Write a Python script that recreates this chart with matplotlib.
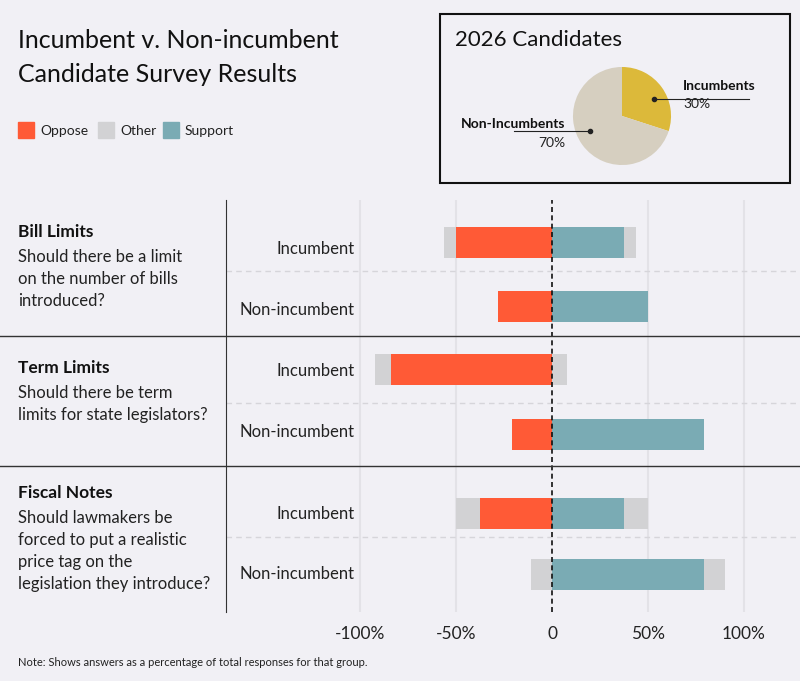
import matplotlib
matplotlib.use("Agg")
import matplotlib.pyplot as plt
from matplotlib.patches import Rectangle
import numpy as np

plt.rcParams['font.family'] = ['Lato', 'DejaVu Sans']

groups = ["Incumbent", "Non-incumbent"] * 3
oppose = [50, 28, 84, 21, 37.5, 0]
other = [12.5, 0, 16, 0, 25, 22]
support = [37.5, 50, 0, 79, 37.5, 79]
pie_labels = ["Incumbents", "Non-Incumbents"]
pie_vals = [30, 70]
ticks = [-100, -50, 0, 50, 100]
tick_labels = ["-100%", "-50%", "0", "50%", "100%"]

BG = "#f1f0f5"
C_OPP, C_OTH, C_SUP = "#ff5a36", "#d2d2d4", "#7aabb4"
W, H = 800, 681
fig = plt.figure(figsize=(8, 6.81), dpi=100, facecolor=BG)

def fx(px): return px / W
def fy(py): return 1 - py / H

ax = fig.add_axes([fx(226), fy(612), fx(800 - 226), (612 - 200) / H])
ax.set_facecolor(BG)
ax.set_xlim((226 - 552) / 1.92, (800 - 552) / 1.92)
ax.set_ylim(612, 200)
rows = [242, 306, 369, 434, 513, 574]
label_rows = [249, 310, 371, 432, 514, 574]
bh = 31
for g in ticks:
    if g != 0:
        ax.axvline(g, color="#e3e2e7", lw=1.5, zorder=0)
for y, o, m, s in zip(rows, oppose, other, support):
    ax.barh(y, -o, height=bh, color=C_OPP, zorder=2)
    ax.barh(y, -m / 2, left=-o, height=bh, color=C_OTH, zorder=2)
    ax.barh(y, s, height=bh, color=C_SUP, zorder=2)
    ax.barh(y, m / 2, left=s, height=bh, color=C_OTH, zorder=2)
for y, g in zip(label_rows, groups):
    ax.text(-103, y, g, ha="right", va="center", fontsize=12, color="#222")
ax.axvline(0, color="#111", lw=1.2, ls=(0, (3, 2)), zorder=3)
for yd in [271, 403, 537]:
    ax.axhline(yd, color="#d6d5da", lw=1, ls=(0, (4, 3)), zorder=1)
for s in ax.spines.values():
    s.set_visible(False)
ax.spines['left'].set_visible(True)
ax.spines['left'].set_color("#333")
ax.set_yticks([])
ax.set_xticks(ticks)
ax.set_xticklabels(tick_labels, fontsize=12.5, color="#222")
ax.tick_params(axis='x', length=0, pad=10)

for ys in [336, 466]:
    fig.add_artist(plt.Line2D([0, 1], [fy(ys), fy(ys)], color="#333", lw=1))

fig.text(fx(18), fy(40), "Incumbent v. Non-incumbent", fontsize=18, va="center", color="#111")
fig.text(fx(18), fy(74), "Candidate Survey Results", fontsize=18, va="center", color="#111")
for lab, c, x in [("Oppose", C_OPP, 18), ("Other", C_OTH, 98), ("Support", C_SUP, 163)]:
    fig.add_artist(Rectangle((fx(x), fy(138)), 16 / W, 16 / H, color=c, transform=fig.transFigure))
    fig.text(fx(x + 22), fy(131), lab, fontsize=10, va="center", color="#222")

sections = [
    (232, "Bill Limits", ["Should there be a limit", "on the number of bills", "introduced?"]),
    (368, "Term Limits", ["Should there be term", "limits for state legislators?"]),
    (493, "Fiscal Notes", ["Should lawmakers be", "forced to put a realistic", "price tag on the", "legislation they introduce?"]),
]
for y0, head, lines in sections:
    fig.text(fx(18), fy(y0), head, fontsize=12.5, fontweight="bold", va="center", color="#111")
    for i, l in enumerate(lines):
        fig.text(fx(18), fy(y0 + 25 + 22 * i), l, fontsize=12, va="center", color="#222")

fig.text(fx(18), fy(662), "Note: Shows answers as a percentage of total responses for that group.",
         fontsize=8, va="center", color="#222")

fig.add_artist(Rectangle((fx(440), fy(183)), 350 / W, 169 / H, fill=False, ec="#111", lw=1.5,
                         transform=fig.transFigure))
fig.text(fx(455), fy(40), "2026 Candidates", fontsize=16, va="center", color="#111")
pax = fig.add_axes([fx(572), fy(166), 100 / W, 100 / H])
pax.pie(pie_vals, colors=["#dcb93a", "#d6cfc0"], startangle=90, counterclock=False, radius=1.0)
pax.set_aspect("equal")
pax.set_xlim(-1.02, 1.02); pax.set_ylim(-1.02, 1.02)
pax.plot([0.65], [0.35], 'o', color="#222", ms=3)
pax.plot([-0.65], [-0.3], 'o', color="#222", ms=3)
pax.plot([0.65, 2.6], [0.35, 0.35], color="#222", lw=0.8, clip_on=False)
pax.plot([-0.65, -2.2], [-0.3, -0.3], color="#222", lw=0.8, clip_on=False)
fig.text(fx(683), fy(86), pie_labels[0], fontsize=10, fontweight="bold", va="center", color="#111")
fig.text(fx(683), fy(104), f"{pie_vals[0]}%", fontsize=10, va="center", color="#222")
fig.text(fx(565), fy(124), pie_labels[1], fontsize=10, fontweight="bold", va="center", ha="right", color="#111")
fig.text(fx(565), fy(143), f"{pie_vals[1]}%", fontsize=10, va="center", ha="right", color="#222")

fig.savefig("out.png", dpi=100, facecolor=BG)
